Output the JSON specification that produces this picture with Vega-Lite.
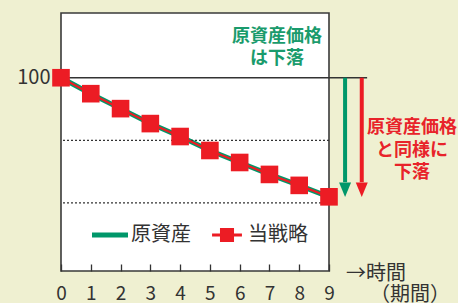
{
  "$schema": "https://vega.github.io/schema/vega-lite/v6.json",
  "width": 268,
  "height": 258,
  "autosize": {"type": "none"},
  "padding": {"left": 61, "top": 13, "right": 129, "bottom": 32},
  "background": "#eff0d1",
  "config": {
    "view": {"fill": "white", "stroke": "#3a3a3a", "strokeWidth": 1.6},
    "font": "Noto Sans CJK JP",
    "axis": {"labelOverlap": false, "labelFlush": false}
  },
  "datasets": {
    "s": [
      {"t": 0, "v": 100, "series": "原資産"},
      {"t": 1, "v": 97.45, "series": "原資産"},
      {"t": 2, "v": 95.06, "series": "原資産"},
      {"t": 3, "v": 92.67, "series": "原資産"},
      {"t": 4, "v": 90.6, "series": "原資産"},
      {"t": 5, "v": 88.37, "series": "原資産"},
      {"t": 6, "v": 86.45, "series": "原資産"},
      {"t": 7, "v": 84.54, "series": "原資産"},
      {"t": 8, "v": 82.79, "series": "原資産"},
      {"t": 9, "v": 80.96, "series": "原資産"},
      {"t": 0, "v": 100, "series": "当戦略"},
      {"t": 1, "v": 97.45, "series": "当戦略"},
      {"t": 2, "v": 95.06, "series": "当戦略"},
      {"t": 3, "v": 92.67, "series": "当戦略"},
      {"t": 4, "v": 90.6, "series": "当戦略"},
      {"t": 5, "v": 88.37, "series": "当戦略"},
      {"t": 6, "v": 86.45, "series": "当戦略"},
      {"t": 7, "v": 84.54, "series": "当戦略"},
      {"t": 8, "v": 82.79, "series": "当戦略"},
      {"t": 9, "v": 80.96, "series": "当戦略"}
    ],
    "arrows": [
      {"series": "原資産", "x": 9.54, "y0": 100, "y1": 83.3, "tip": 82.1},
      {"series": "当戦略", "x": 10.1, "y0": 100, "y1": 83.3, "tip": 82.1}
    ]
  },
  "layer": [
    {
      "data": {"name": "s"},
      "transform": [{"filter": "datum.series === '原資産'"}],
      "mark": {"type": "line", "color": "#00976a", "strokeWidth": 5},
      "encoding": {
        "x": {"field": "t", "type": "quantitative", "title": null,
          "scale": {"domain": [0, 9], "nice": false, "zero": false},
          "axis": {"values": [0, 1, 2, 3, 4, 5, 6, 7, 8, 9], "tickCount": 10, "title": null, "domain": false, "grid": false, "ticks": true, "tickSize": -7, "tickColor": "#333333", "tickWidth": 1.3, "labelOverlap": false, "labelFlush": false, "labelFontSize": 19, "labelColor": "#333333", "labelPadding": 20, "labelFont": "Noto Sans CJK JP"}},
        "y": {"field": "v", "type": "quantitative", "title": null,
          "scale": {"domain": [69.1, 110.35], "nice": false, "zero": false},
          "axis": {"values": [100], "title": null, "domain": false, "ticks": false, "grid": false, "labelFontSize": 20, "labelColor": "#333333", "labelPadding": 11, "labelFont": "Noto Sans CJK JP"}}
      }
    },
    {
      "data": {"values": [{"g": 90}, {"g": 80}]},
      "mark": {"type": "rule", "color": "#333333", "strokeWidth": 1.3, "strokeDash": [2, 2]},
      "encoding": {
        "y": {"field": "g", "type": "quantitative", "title": null}
      }
    },
    {
      "data": {"values": [{"x0": 0, "x1": 10.28, "y": 100}]},
      "mark": {"type": "rule", "color": "#333333", "strokeWidth": 1.5},
      "encoding": {
        "x": {"field": "x0", "type": "quantitative", "title": null},
        "x2": {"field": "x1"},
        "y": {"field": "y", "type": "quantitative", "title": null}
      }
    },
    {
      "data": {"name": "s"},
      "transform": [{"filter": "datum.series === '当戦略'"}],
      "mark": {"type": "line", "color": "#ec1c24", "strokeWidth": 2.2},
      "encoding": {
        "x": {"field": "t", "type": "quantitative", "title": null},
        "y": {"field": "v", "type": "quantitative", "title": null}
      }
    },
    {
      "data": {"name": "s"},
      "transform": [{"filter": "datum.series === '当戦略'"}],
      "mark": {"type": "point", "shape": "square", "filled": true, "size": 310, "opacity": 1},
      "encoding": {
        "x": {"field": "t", "type": "quantitative", "title": null},
        "y": {"field": "v", "type": "quantitative", "title": null},
        "color": {
          "field": "series", "type": "nominal",
          "scale": {"domain": ["原資産", "当戦略"], "range": ["#00976a", "#ec1c24"]},
          "legend": {
            "title": null, "orient": "none", "legendX": 31, "legendY": 204, "direction": "horizontal",
            "symbolSize": 1296, "symbolStrokeWidth": 0, "symbolOpacity": 1,
            "labelFontSize": 20, "labelFont": "Noto Sans CJK JP", "labelColor": "#333333",
            "labelOffset": 3, "columnPadding": 18,
            "encode": {"symbols": {"update": {"shape": [
              {"test": "datum.value === '当戦略'", "value": "M-0.83,-0.08H-0.39V-0.39H0.39V-0.08H0.83V0.08H0.39V0.39H-0.39V0.08H-0.83Z"},
              {"value": "M-1,-0.14H1V0.14H-1Z"}
            ]}}}
          }
        }
      }
    },
    {
      "data": {"name": "arrows"},
      "transform": [{"filter": "datum.series === '原資産'"}],
      "mark": {"type": "rule", "color": "#00976a", "strokeWidth": 4},
      "encoding": {
        "x": {"field": "x", "type": "quantitative", "title": null},
        "y": {"field": "y0", "type": "quantitative", "title": null},
        "y2": {"field": "y1"}
      }
    },
    {
      "data": {"name": "arrows"},
      "transform": [{"filter": "datum.series === '当戦略'"}],
      "mark": {"type": "rule", "color": "#ec1c24", "strokeWidth": 4},
      "encoding": {
        "x": {"field": "x", "type": "quantitative", "title": null},
        "y": {"field": "y0", "type": "quantitative", "title": null},
        "y2": {"field": "y1"}
      }
    },
    {
      "data": {"name": "arrows"},
      "transform": [{"filter": "datum.series === '原資産'"}],
      "mark": {"type": "point", "shape": "M-1,-1.2L1,-1.2L0,1.2Z", "filled": true, "size": 144, "opacity": 1, "color": "#00976a"},
      "encoding": {
        "x": {"field": "x", "type": "quantitative", "title": null},
        "y": {"field": "tip", "type": "quantitative", "title": null}
      }
    },
    {
      "data": {"name": "arrows"},
      "transform": [{"filter": "datum.series === '当戦略'"}],
      "mark": {"type": "point", "shape": "M-1,-1.2L1,-1.2L0,1.2Z", "filled": true, "size": 144, "opacity": 1, "color": "#ec1c24"},
      "encoding": {
        "x": {"field": "x", "type": "quantitative", "title": null},
        "y": {"field": "tip", "type": "quantitative", "title": null}
      }
    },
    {
      "data": {"values": [{"note": "原資産価格\nは下落", "x": 7.25, "y": 106.53}]},
      "mark": {"type": "text", "lineBreak": "\n", "lineHeight": 22, "fontSize": 18, "fontWeight": "bold", "color": "#1a9b6c", "align": "center", "baseline": "middle", "font": "Noto Sans CJK JP"},
      "encoding": {
        "x": {"field": "x", "type": "quantitative", "title": null},
        "y": {"field": "y", "type": "quantitative", "title": null},
        "text": {"field": "note"}
      }
    },
    {
      "data": {"values": [{"note": "原資産価格\nと同様に\n下落", "x": 11.79, "y": 91.95}]},
      "mark": {"type": "text", "lineBreak": "\n", "lineHeight": 22.5, "fontSize": 18, "fontWeight": "bold", "color": "#e8232a", "align": "center", "baseline": "middle", "font": "Noto Sans CJK JP"},
      "encoding": {
        "x": {"field": "x", "type": "quantitative", "title": null},
        "y": {"field": "y", "type": "quantitative", "title": null},
        "text": {"field": "note"}
      }
    },
    {
      "data": {"values": [{"lab": "→時間", "x": 10.58, "y": 68.6}, {"lab": "（期間）", "x": 11.72, "y": 65.25}]},
      "mark": {"type": "text", "fontSize": 20, "color": "#333333", "align": "center", "baseline": "middle", "font": "Noto Sans CJK JP"},
      "encoding": {
        "x": {"field": "x", "type": "quantitative", "title": null},
        "y": {"field": "y", "type": "quantitative", "title": null},
        "text": {"field": "lab"}
      }
    }
  ]
}
